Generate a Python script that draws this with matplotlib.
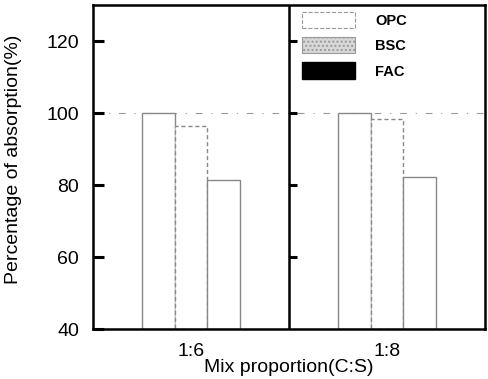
# Absorption percentage bar chart
import numpy as np
import matplotlib.pyplot as plt
from matplotlib.patches import Patch

plt.rcParams['font.family'] = ['Liberation Sans', 'DejaVu Sans']

# Data
mixes = ['1:6', '1:8']
series = ['OPC', 'BSC', 'FAC']
opc = [100.0, 100.0]
bsc = [96.4, 98.2]
fac = [81.3, 82.2]

fig = plt.figure(figsize=(4.89, 3.79), dpi=100)
ax = fig.add_axes([93 / 489, 1 - 329 / 379, 392 / 489, 324 / 379])

centers = np.array([0.5, 1.5])
width = 0.168
edge = '#888888'
styles = ['-', (0, (3, 2)), '-']
for i, vals in enumerate([opc, bsc, fac]):
    ax.bar(centers + (i - 1) * width, np.array(vals) - 40, width, bottom=40,
           facecolor='white', edgecolor=edge, linewidth=1.0, linestyle=styles[i])

# reference line at 100 %
ax.axhline(100, color='#999999', linestyle=(0, (6, 8, 1, 8)), linewidth=0.8, zorder=0)

# divider between groups, with its own inward ticks
ax.axvline(1.0, color='black', linewidth=1.8)
for yv in [60, 80, 100, 120]:
    ax.plot([1.0, 1.04], [yv, yv], color='black', linewidth=2.2, solid_capstyle='butt')

ax.set_xlim(0, 2)
ax.set_ylim(40, 130)
ax.set_yticks([40, 60, 80, 100, 120])
ax.set_xticks(centers)
ax.set_xticklabels(mixes, fontsize=14)
ax.tick_params(axis='y', direction='in', length=8, width=2.2, labelsize=14, pad=10)
ax.tick_params(axis='x', length=0, pad=10)
for s in ax.spines.values():
    s.set_linewidth(1.8)

ax.set_ylabel('Percentage of absorption(%)', fontsize=14)
ax.yaxis.set_label_coords(-0.18, 0.525)
ax.set_xlabel('Mix proportion(C:S)', fontsize=14, labelpad=-1)

handles = [
    Patch(facecolor='white', edgecolor='#999999', linestyle='--', linewidth=0.8),
    Patch(facecolor='#d8d8d8', edgecolor='#999999', hatch='....', linewidth=0.8),
    Patch(facecolor='black', edgecolor='black'),
]
ax.legend(handles, series, loc='upper left', bbox_to_anchor=(0.5, 1.02),
          frameon=False, handlelength=3.6, handleheight=1.35,
          handletextpad=1.4, labelspacing=0.62, prop={'weight': 'bold', 'size': 10.5})

plt.savefig('out.png', dpi=100)
